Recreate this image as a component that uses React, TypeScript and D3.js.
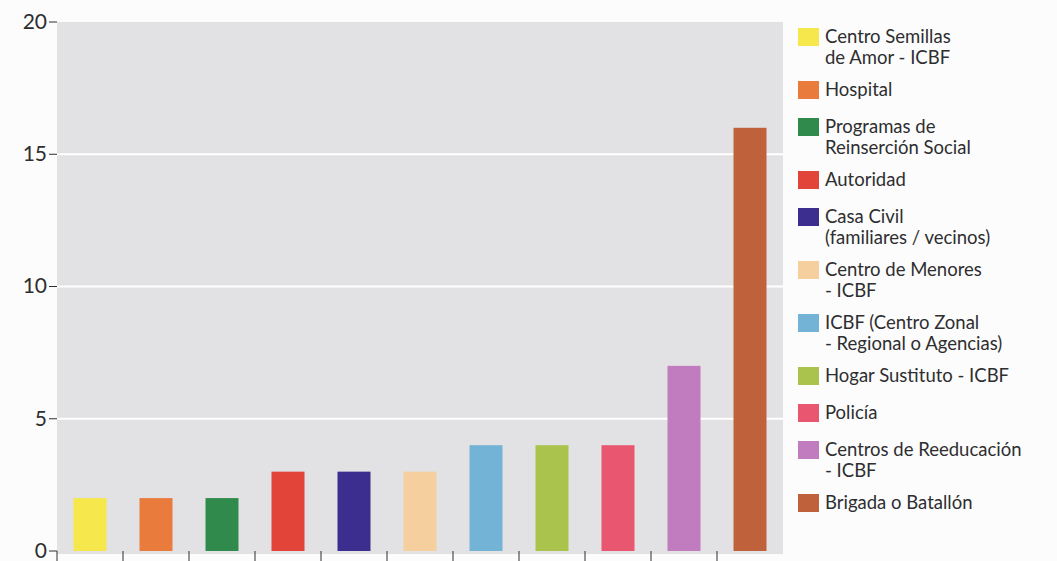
import React from "react";
import * as d3 from "d3";

const categories = [
  "Centro Semillas de Amor - ICBF",
  "Hospital",
  "Programas de Reinserción Social",
  "Autoridad",
  "Casa Civil (familiares / vecinos)",
  "Centro de Menores - ICBF",
  "ICBF (Centro Zonal - Regional o Agencias)",
  "Hogar Sustituto - ICBF",
  "Policía",
  "Centros de Reeducación - ICBF",
  "Brigada o Batallón",
];
const values = [2, 2, 2, 3, 3, 3, 4, 4, 4, 7, 16];
const colors = [
  "#f6e74c", "#e97b3c", "#2f8a4c", "#e2443a", "#3b2e8e", "#f6cf9f",
  "#72b3d6", "#a9c34c", "#e8566f", "#c17bbf", "#bf623c",
];
const legendLines = [
  ["Centro Semillas", "de Amor - ICBF"],
  ["Hospital"],
  ["Programas de", "Reinserción Social"],
  ["Autoridad"],
  ["Casa Civil", "(familiares / vecinos)"],
  ["Centro de Menores", "- ICBF"],
  ["ICBF (Centro Zonal", "- Regional o Agencias)"],
  ["Hogar Sustituto - ICBF"],
  ["Policía"],
  ["Centros de Reeducación", "- ICBF"],
  ["Brigada o Batallón"],
];
const yTicks = [0, 5, 10, 15, 20];

const W = 1057;
const H = 561;
const plot = { left: 57, right: 783, top: 22, bottom: 551 };
const font = "Lato, 'Open Sans', sans-serif";
const textColor = "#2e2e30";

export default function App() {
  const x = d3
    .scaleBand<string>()
    .domain(categories)
    .range([plot.left, plot.right])
    .padding(0);
  const y = d3.scaleLinear().domain([0, 20]).range([plot.bottom, plot.top]);
  const barW = x.bandwidth() * 0.5;

  // legend layout
  let cursor = 28;
  const legendItems = legendLines.map((lines, i) => {
    const top = cursor;
    cursor += lines.length > 1 ? 53 : 37;
    return { lines, top, color: colors[i] };
  });

  return (
    <svg
      width={W}
      height={H}
      style={{ position: "absolute", left: 0, top: 0, background: "#fcfcfc" }}
    >
      <rect x={0} y={0} width={W} height={H} fill="#fcfcfc" />
      <rect
        x={plot.left}
        y={plot.top}
        width={plot.right - plot.left}
        height={plot.bottom - plot.top + 3}
        fill="#e2e2e5"
      />
      {yTicks
        .filter((t) => t > 0 && t < 20)
        .map((t) => (
          <line
            key={"g" + t}
            x1={plot.left}
            x2={plot.right}
            y1={y(t)}
            y2={y(t)}
            stroke="#ffffff"
            strokeWidth={2}
          />
        ))}
      {categories.map((c, i) => (
        <rect
          key={c}
          x={(x(c) as number) + (x.bandwidth() - barW) / 2}
          y={y(values[i])}
          width={barW}
          height={y(0) - y(values[i])}
          fill={colors[i]}
        />
      ))}
      {yTicks.map((t) => (
        <g key={"t" + t}>
          <line
            x1={plot.left - 8}
            x2={plot.left}
            y1={y(t)}
            y2={y(t)}
            stroke={textColor}
            strokeWidth={1}
          />
          <text
            x={plot.left - 10}
            y={y(t)}
            dy="0.33em"
            textAnchor="end"
            fontFamily={font}
            fontSize={21}
            fill={textColor}
          >
            {t}
          </text>
        </g>
      ))}
      {categories.map((c) => (
        <line
          key={"xt" + c}
          x1={x(c) as number}
          x2={x(c) as number}
          y1={plot.bottom}
          y2={H}
          stroke={textColor}
          strokeWidth={1}
        />
      ))}
      {legendItems.map((it, i) => (
        <g key={"l" + i}>
          <rect x={798} y={it.top} width={21} height={18} fill={it.color} />
          {it.lines.map((ln, j) => (
            <text
              key={j}
              x={825}
              y={it.top + 15 + j * 21}
              fontFamily={font}
              fontSize={18.5}
              fill={textColor}
            >
              {ln}
            </text>
          ))}
        </g>
      ))}
    </svg>
  );
}
